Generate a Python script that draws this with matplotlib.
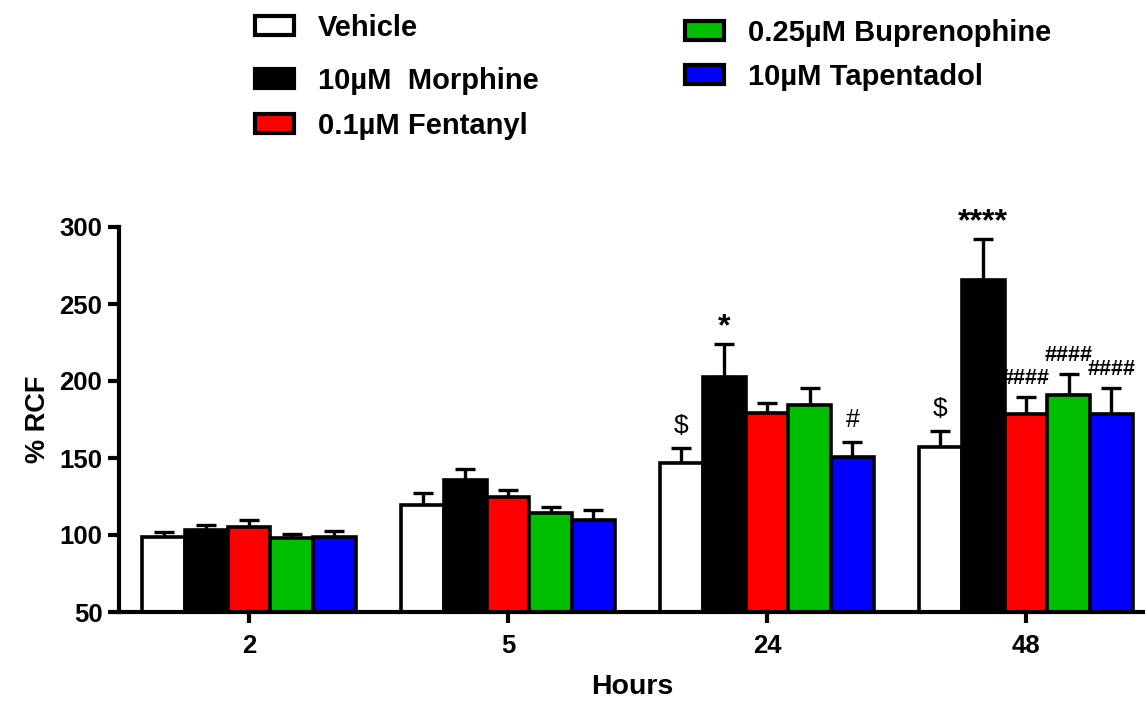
import matplotlib
matplotlib.use("Agg")
import matplotlib.pyplot as plt
from matplotlib.patches import Rectangle
import numpy as np

plt.rcParams['font.family'] = ['Liberation Sans', 'DejaVu Sans']

hours = ["2", "5", "24", "48"]
series = ["Vehicle", "10\u00b5M  Morphine", "0.1\u00b5M Fentanyl",
          "0.25\u00b5M Buprenophine", "10\u00b5M Tapentadol"]
colors = ["#ffffff", "#000000", "#ff0000", "#00bf00", "#0000ff"]

vehicle = [99, 119.5, 147, 157]
morphine = [103.5, 135.5, 202.5, 265.5]
fentanyl = [105.5, 124.5, 179.5, 178.5]
buprenorphine = [98, 114, 184.5, 191]
tapentadol = [99, 109.5, 150.5, 178.5]
means = [vehicle, morphine, fentanyl, buprenorphine, tapentadol]

vehicle_err = [3, 7.5, 9.5, 10.5]
morphine_err = [3, 7.5, 21.5, 27]
fentanyl_err = [4.5, 4.5, 6.5, 11]
buprenorphine_err = [2.5, 4, 11, 13.5]
tapentadol_err = [3.5, 7, 10, 17]
errs = [vehicle_err, morphine_err, fentanyl_err, buprenorphine_err, tapentadol_err]

# (series index, group index, label)
annotations = [(0, 2, "$"), (1, 2, "*"), (4, 2, "#"),
               (0, 3, "$"), (1, 3, "****"), (2, 3, "####"),
               (3, 3, "####"), (4, 3, "####")]

W, H = 1145, 704
fig = plt.figure(figsize=(W / 100, H / 100), dpi=100)
ax = fig.add_axes([119 / W, 1 - 612 / H, 1 - 119 / W, (612 - 227) / H])

x = np.arange(len(hours))
bw = 0.165
n = len(series)
for i in range(n):
    pos = x + (i - (n - 1) / 2) * bw
    ax.bar(pos, means[i], width=bw, color=colors[i], edgecolor="black",
           linewidth=2.6, zorder=2)
    ax.errorbar(pos, means[i], yerr=[np.zeros(len(hours)), errs[i]], fmt="none",
                ecolor="black", elinewidth=2.4, capsize=7.5, capthick=2.4, zorder=1)

for si, gi, lab in annotations:
    px = x[gi] + (si - (n - 1) / 2) * bw
    top = means[si][gi] + errs[si][gi]
    if lab.startswith("#"):
        fs, fw, off = (15.5, "bold", 6) if len(lab) > 1 else (18, "normal", 7)
    elif lab.startswith("*"):
        fs, fw, off = 23, "bold", 1
    else:
        fs, fw, off = 19, "normal", 7
    ax.annotate(lab, (px, top), xytext=(0, off), textcoords="offset points",
                ha="center", va="bottom", fontsize=fs, fontweight=fw)

ax.set_ylim(50, 300)
ax.set_yticks([50, 100, 150, 200, 250, 300])
ax.set_xlim(-0.502, 3.46)
ax.set_xticks(x)
ax.set_xticklabels(hours)
for s in ["top", "right"]:
    ax.spines[s].set_visible(False)
for s in ["left", "bottom"]:
    ax.spines[s].set_linewidth(3)
ax.tick_params(axis="both", width=3, length=8, labelsize=18.5)
ax.tick_params(axis="x", pad=8)
ax.tick_params(axis="y", pad=4)
for t in ax.get_xticklabels() + ax.get_yticklabels():
    t.set_fontweight("bold")
ax.set_xlabel("Hours", fontsize=20.5, fontweight="bold", labelpad=11)
ax.set_ylabel("% RCF", fontsize=19.5, fontweight="bold", labelpad=6)

# legend drawn manually in two columns
leg_pos = [(255, 25.5), (255, 78), (255, 123), (685, 30), (685, 74)]
for i, (lx, ly) in enumerate(leg_pos):
    pw, ph = 39, 19
    r = Rectangle(((lx) / W, 1 - (ly + ph / 2) / H), pw / W, ph / H,
                  transform=fig.transFigure, facecolor=colors[i],
                  edgecolor="black", linewidth=3)
    fig.add_artist(r)
    fig.text((lx + 63) / W, 1 - (ly + 3) / H, series[i], fontsize=21,
             fontweight="bold", va="center", ha="left")

fig.savefig("out.png", dpi=100)
